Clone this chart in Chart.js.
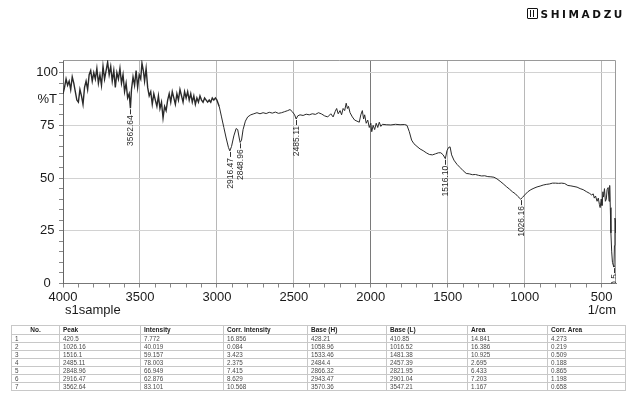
<!DOCTYPE html>
<html>
<head>
<meta charset="utf-8">
<script src="https://cdn.jsdelivr.net/npm/chart.js@4.4.0/dist/chart.umd.min.js"></script>
<style>
  body { margin: 0; background: #fff; width: 631px; height: 398px; position: relative; overflow: hidden;
         font-family: "Liberation Sans", Arial, sans-serif; }
  #wrap { position: absolute; left: 0; top: 0; width: 631px; height: 320px; }
  .logo { position: absolute; top: 8px; right: 6px; font-family: "DejaVu Sans", sans-serif; font-weight: bold;
          font-size: 10.5px; letter-spacing: 2.6px; color: #111; }
  .logo .mark { display: inline-block; width: 9px; height: 9px; border: 1.5px solid #111; border-radius: 1px;
                vertical-align: -1px; margin-right: 3px; position: relative; }
  .logo .mark::after { content: ""; position: absolute; left: 2.5px; top: 1px; width: 4px; height: 7px;
                       border-left: 1.5px solid #111; border-right: 1.5px solid #111; box-sizing: border-box; }
  .axisnote { position: absolute; top: 302px; font-size: 13px; color: #1a1a1a; }
  table { position: absolute; left: 11px; top: 325px; border-collapse: collapse; table-layout: fixed;
          font-family: "Liberation Sans", Arial, sans-serif; }
  th, td { border: 1px solid #c8c8c8; padding: 0 3px; text-align: left; white-space: nowrap; overflow: hidden; }
  th { font-size: 6.5px; font-weight: bold; color: #222; height: 8px; line-height: 8px; }
  th.no { text-align: center; }
  td { font-size: 6.3px; color: #4a4a4a; height: 7px; line-height: 7px; }
</style>
</head>
<body>
<div id="wrap"><canvas id="irChart" width="631" height="320"></canvas></div>
<div class="logo"><span class="mark"></span>SHIMADZU</div>
<div class="axisnote" style="left:65px">s1sample</div>
<div class="axisnote" style="right:15px">1/cm</div>
<table id="peakTable"></table>

<script>
// spectrum: wavenumber (1/cm) and %T
const wavenumbers = [
  4000, 3990, 3980, 3970, 3960, 3950, 3940, 3930, 3920, 3910, 3900, 3890, 3880, 3870, 3860, 3850,
  3840, 3830, 3820, 3810, 3800, 3790, 3780, 3770, 3760, 3750, 3740, 3730, 3720, 3710, 3700, 3690,
  3680, 3670, 3660, 3650, 3640, 3630, 3620, 3610, 3600, 3590, 3580, 3570, 3562, 3555, 3545, 3535,
  3525, 3515, 3505, 3495, 3487, 3478, 3470, 3460, 3450, 3440, 3430, 3420, 3410, 3400, 3390, 3380,
  3370, 3360, 3350, 3340, 3330, 3320, 3310, 3300, 3290, 3280, 3270, 3260, 3250, 3240, 3230, 3220,
  3210, 3200, 3190, 3180, 3170, 3160, 3150, 3140, 3130, 3120, 3110, 3100, 3090, 3080, 3070, 3060,
  3050, 3040, 3030, 3020, 3010, 3000, 2985, 2970, 2955, 2940, 2925, 2916, 2905, 2890, 2875, 2865,
  2855, 2849, 2840, 2830, 2815, 2800, 2780, 2760, 2740, 2720, 2700, 2680, 2660, 2640, 2620, 2600,
  2580, 2560, 2540, 2525, 2510, 2495, 2485, 2475, 2460, 2440, 2420, 2400, 2380, 2360, 2340, 2320,
  2300, 2280, 2260, 2245, 2232, 2222, 2212, 2200, 2190, 2180, 2170, 2160, 2152, 2145, 2135, 2120,
  2105, 2090, 2075, 2065, 2055, 2047, 2040, 2030, 2020, 2010, 2000, 1994, 1985, 1975, 1965, 1955,
  1945, 1935, 1925, 1900, 1870, 1840, 1810, 1780, 1765, 1750, 1735, 1720, 1700, 1680, 1660, 1640,
  1620, 1600, 1580, 1560, 1545, 1530, 1516, 1505, 1495, 1485, 1475, 1460, 1440, 1420, 1400, 1380,
  1360, 1340, 1320, 1300, 1280, 1260, 1240, 1220, 1200, 1180, 1160, 1140, 1120, 1100, 1080, 1060,
  1045, 1026, 1015, 1000, 980, 960, 940, 920, 900, 880, 860, 840, 820, 800, 780, 760,
  740, 720, 700, 680, 660, 640, 620, 600, 580, 565, 555, 548, 540, 530, 522, 515,
  510, 503, 498, 492, 488, 482, 476, 470, 465, 458, 452, 448, 444, 440, 435, 430,
  424, 420.5, 417, 414, 411, 408
];
const transmittance = [
  90, 93, 97, 94, 96, 92, 98, 95, 91, 87, 86, 92, 89, 85, 93, 96,
  92, 99, 101, 96, 100, 97, 102, 95, 99, 94, 103, 97, 101, 105, 99, 103,
  96, 101, 93, 100, 97, 102, 95, 99, 91, 95, 88, 90, 83.1, 92, 98, 94,
  101, 93, 99, 97, 104.5, 101, 96, 102, 93, 89, 91, 85, 90, 87, 84, 89,
  83, 86, 78.5, 84, 82, 87, 90, 86, 91, 88, 85, 90, 87, 92, 89, 86,
  91, 88, 91, 87, 90, 86, 89, 85, 88, 86, 89, 87, 86, 88, 87, 86,
  87, 86, 88, 87, 88, 87, 84, 79, 74, 69, 64.5, 62.9, 65, 70, 73.5, 73,
  69, 66.9, 68, 73, 77, 79, 80, 80.5, 81, 80.5, 81, 80.6, 81.2, 80.8, 81.3, 80.7,
  81, 81.5, 82, 82.5, 81.5, 80, 78, 79.5, 80, 79.7, 80.3, 80, 80.5, 80.2, 81, 80.4,
  79.5, 79, 80.5, 79, 81.5, 83, 80.5, 82, 80, 83, 82, 85.5, 83, 84, 81, 79,
  77.5, 77, 76.5, 80, 82, 78, 80, 76, 77.5, 74, 76, 72, 75, 73, 76, 74,
  76.5, 74.5, 75.5, 75.3, 75.2, 75.5, 75.3, 75.4, 75, 72, 68, 66.3, 65, 63.8, 63, 62,
  61.2, 61, 61.5, 62, 62, 61, 59.2, 63, 64.5, 64.8, 61, 58.5, 56.5, 55, 53.5, 52.2,
  52, 51.6, 51.7, 51.3, 51, 51.1, 50.7, 50.6, 50.4, 49.6, 48.5, 47.3, 46, 44.8, 43.5, 42.5,
  41.3, 40.0, 40.8, 42, 43.5, 44.5, 45.2, 45.8, 46.2, 46.7, 47, 47.2, 47.6, 47.6, 47.5, 47.6,
  47.4, 46.5, 46.3, 46, 45.7, 45, 44.5, 43.6, 42.8, 42, 42.5, 40.5, 41.5, 39, 40.5, 37.5,
  36, 40, 37, 43.5, 41, 45, 39, 40, 44.5, 45.5, 39, 46.5, 36, 24, 15, 10,
  8.5, 7.8, 18, 31, 30, 24
];

// peak table
const peakNo = [1, 2, 3, 4, 5, 6, 7];
const peakPos = ['420.5', '1026.16', '1516.1', '2485.11', '2848.96', '2916.47', '3562.64'];
const peakInt = ['7.772', '40.019', '59.157', '78.003', '66.949', '62.876', '83.101'];
const corrInt = ['16.856', '0.084', '3.423', '2.375', '7.415', '8.629', '10.568'];
const baseH = ['428.21', '1058.96', '1533.46', '2484.4', '2866.32', '2943.47', '3570.36'];
const baseL = ['410.85', '1016.52', '1481.38', '2457.39', '2821.95', '2901.04', '3547.21'];
const area = ['14.841', '16.386', '10.925', '2.695', '6.433', '7.203', '1.167'];
const corrArea = ['4.273', '0.219', '0.509', '0.188', '0.865', '1.198', '0.658'];
const peakLabels = ['420.5', '1026.16', '1516.10', '2485.11', '2848.96', '2916.47', '3562.64'];

const tableHeaders = ['No.', 'Peak', 'Intensity', 'Corr. Intensity', 'Base (H)', 'Base (L)', 'Area', 'Corr. Area'];
const colWidths = [48, 81, 83, 84, 79, 81, 80, 78];

const xTickLabels = [4000, 3500, 3000, 2500, 2000, 1500, 1000, 500];
const yTickLabels = [0, 25, 50, 75, 100];
const yUnitLabel = '%T';
const yUnitPos = 87.5;

// build table
const table = document.getElementById('peakTable');
let html = '<colgroup>' + colWidths.map(w => `<col style="width:${w}px">`).join('') + '</colgroup>';
html += '<tr>' + tableHeaders.map((h, i) => `<th${i === 0 ? ' class="no"' : ''}>${h}</th>`).join('') + '</tr>';
peakNo.forEach((n, i) => {
    html += '<tr>' + [n, peakPos[i], peakInt[i], corrInt[i], baseH[i], baseL[i], area[i], corrArea[i]]
        .map(v => `<td>${v}</td>`).join('') + '</tr>';
});
table.innerHTML = html;

// minor tick positions
const xMinor = [];
for (let v = 4000; v >= 500; v -= 100) xMinor.push(v);
const yMinor = [];
for (let v = 0; v <= 105; v += 5) yMinor.push(v);
yMinor.push(yUnitPos);
yMinor.sort((a, b) => a - b);

const frameAndPeaks = {
    id: 'frameAndPeaks',
    beforeDatasetsDraw(chart) {
        const { ctx, chartArea: a } = chart;
        ctx.save();
        ctx.strokeStyle = '#9a9a9a';
        ctx.lineWidth = 1;
        ctx.beginPath();
        ctx.moveTo(a.left, a.top + 0.5);
        ctx.lineTo(a.right - 0.5, a.top + 0.5);
        ctx.lineTo(a.right - 0.5, a.bottom);
        ctx.stroke();
        ctx.restore();
    },
    afterDatasetsDraw(chart) {
        const { ctx, chartArea: a } = chart;
        const xs = chart.scales.x, ys = chart.scales.y;
        ctx.save();
        ctx.beginPath();
        ctx.rect(a.left, a.top, a.right - a.left, a.bottom - a.top);
        ctx.clip();
        ctx.strokeStyle = '#333';
        ctx.fillStyle = '#2a2a2a';
        ctx.lineWidth = 1;
        ctx.font = '8.5px "Liberation Sans", Arial, sans-serif';
        peakLabels.forEach((lab, i) => {
            const x = Math.round(xs.getPixelForValue(parseFloat(peakPos[i]))) + 0.5;
            const y = ys.getPixelForValue(parseFloat(peakInt[i]));
            ctx.beginPath();
            ctx.moveTo(x, y + 1);
            ctx.lineTo(x, y + 6);
            ctx.stroke();
            ctx.save();
            ctx.translate(x, y + 7);
            ctx.rotate(-Math.PI / 2);
            ctx.textAlign = 'right';
            ctx.textBaseline = 'middle';
            ctx.fillText(lab, 0, 0);
            ctx.restore();
        });
        ctx.restore();
    }
};

new Chart(document.getElementById('irChart').getContext('2d'), {
    type: 'line',
    data: {
        datasets: [{
            data: wavenumbers.map((w, i) => ({ x: w, y: transmittance[i] })),
            borderColor: '#2a2a2a',
            borderWidth: 1,
            // the noisy high-wavenumber part prints heavier in the original
            segment: { borderWidth: c => c.p0.parsed.x > 2990 ? 1.4 : 1 },
            pointRadius: 0,
            tension: 0,
            fill: false
        }]
    },
    options: {
        responsive: false,
        animation: false,
        layout: { padding: { top: 60, right: 15, left: 0, bottom: 0 } },
        plugins: { legend: { display: false }, tooltip: { enabled: false } },
        scales: {
            x: {
                type: 'linear',
                reverse: true,
                min: 407,
                max: 4000,
                afterBuildTicks: s => { s.ticks = xMinor.map(v => ({ value: v })); },
                afterFit: s => { s.height = 36.5; },
                ticks: {
                    autoSkip: false, maxRotation: 0, padding: 2, color: '#1a1a1a',
                    font: { family: '"Liberation Sans", Arial, sans-serif', size: 13 },
                    callback: v => xTickLabels.includes(v) ? String(v) : ''
                },
                grid: {
                    color: c => {
                        if (!c.tick || !xTickLabels.includes(c.tick.value)) return 'rgba(0,0,0,0)';
                        return c.tick.value === 2000 ? '#7a7a7a' : '#b8b8b8';
                    },
                    tickColor: '#888',
                    tickLength: 4
                },
                border: { color: '#777' }
            },
            y: {
                type: 'linear',
                min: 0,
                max: 106,
                afterBuildTicks: s => { s.ticks = yMinor.map(v => ({ value: v })); },
                afterFit: s => { s.width = 63; },
                ticks: {
                    autoSkip: false, padding: 1, color: '#1a1a1a', crossAlign: 'center',
                    font: { family: '"Liberation Sans", Arial, sans-serif', size: 13 },
                    callback: v => v === yUnitPos ? yUnitLabel : (yTickLabels.includes(v) ? String(v) : '')
                },
                grid: {
                    color: c => c.tick && yTickLabels.includes(c.tick.value) && c.tick.value !== 0 ? '#d2d2d2' : 'rgba(0,0,0,0)',
                    tickColor: c => c.tick && c.tick.value === yUnitPos ? 'rgba(0,0,0,0)' : '#888',
                    tickLength: 4
                },
                border: { color: '#666' }
            }
        }
    },
    plugins: [frameAndPeaks]
});
</script>
</body>
</html>
